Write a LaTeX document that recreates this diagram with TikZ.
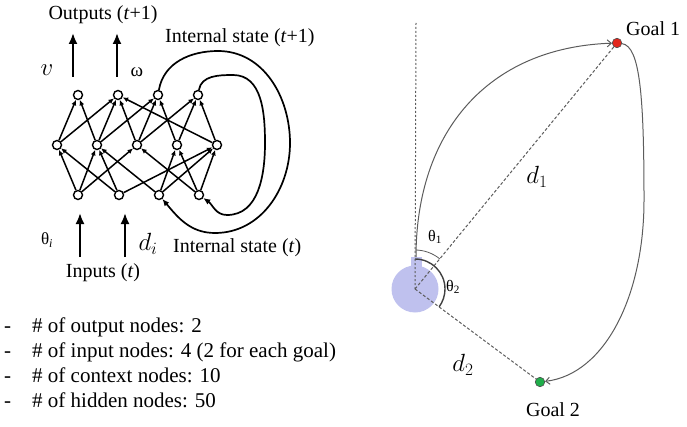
\documentclass[tikz,border=0pt]{standalone}
\usepackage{fontspec}
\setmainfont{Liberation Serif}
\usetikzlibrary{arrows.meta}
\definecolor{robotlilac}{HTML}{BFC1EE}
\definecolor{goalred}{HTML}{E3261C}
\definecolor{goalgreen}{HTML}{1FAE4A}
\definecolor{pathgrey}{HTML}{5C5C5C}

\begin{document}
\begin{tikzpicture}[x=1pt,y=1pt,
        >=Latex,
        unit/.style={circle,draw,line width=1.4pt,fill=white,minimum size=9pt,inner sep=0pt},
        link/.style={-{Latex[length=5.5pt,width=5pt]},line width=1.5pt},
        io/.style={-{Latex[length=11pt,width=9pt]},line width=2pt},
        recur/.style={-{Latex[length=7pt,width=6pt]},line width=1.7pt},
        lbl/.style={font=\fontsize{20}{24}\selectfont,inner sep=0pt},
        item/.style={font=\fontsize{21}{25}\selectfont,anchor=base west,inner sep=0pt},
        route/.style={-{Straight Barb[length=4pt,width=7pt]},draw=pathgrey,line width=1pt},
        sight/.style={draw=pathgrey,line width=1pt,dash pattern=on 3pt off 2pt},
        goal/.style={circle,draw=black!70,line width=0.6pt,minimum size=9.5pt,inner sep=0pt}
      ]
        \useasboundingbox (0,0) rectangle (687,426);

        % network
        \foreach \x [count=\k] in {78,118,158,198} \node[unit] (o\k) at (\x,331) {};
        \foreach \x [count=\k] in {57,97,137,177,217} \node[unit] (h\k) at (\x,281) {};
        \foreach \x [count=\k] in {78,119,159,199} \node[unit] (i\k) at (\x,231) {};

        \foreach \a/\b in {i1/h1,i1/h2,i1/h3,i2/h1,i2/h2,i2/h5,i3/h2,i3/h4,i3/h5,i4/h3,i4/h4,i4/h5,
          h1/o1,h1/o2,h2/o1,h2/o2,h2/o3,h3/o2,h3/o3,h3/o4,h4/o3,h4/o4,h5/o2,h5/o4}
          \draw[link] (\a) -- (\b);

        % outputs and inputs
        \coordinate (vfoot) at (73,349);   \coordinate (vhead) at (73,393);
        \coordinate (wfoot) at (117,349);  \coordinate (whead) at (117,393);
        \coordinate (thfoot) at (80,169);  \coordinate (thhead) at (80,213);
        \coordinate (dfoot) at (125,169);  \coordinate (dhead) at (125,213);
        \draw[io] (vfoot) -- (vhead);
        \draw[io] (wfoot) -- (whead);
        \draw[io] (thfoot) -- (thhead);
        \draw[io] (dfoot) -- (dhead);

        \node[lbl] (outputs) at (103,411) {Outputs (\textit{t}+1)};
        \node[lbl] (inputs) at (103,153) {Inputs (\textit{t})};
        \node[inner sep=0pt,font=\fontsize{25}{27}\selectfont] (vlab) at (47,356) {$v$};
        \node[inner sep=0pt,font=\fontsize{19}{21}\selectfont] (wlab) at (137,354) {ω};
        \node[inner sep=0pt,font=\fontsize{17}{20}\selectfont] (thlab) at (47,186) {θ\textsubscript{\textit{i}}};
        \node[inner sep=0pt,font=\fontsize{26}{28}\selectfont] (dlab) at (148,182) {$d_i$};
        \node[lbl,anchor=west] (statenext) at (165,388) {Internal state (\textit{t}+1)};
        \node[lbl,anchor=west] (statenow) at (173,178) {Internal state (\textit{t})};

        % recurrent loops
        \draw[recur] (o3) to[out=80,in=180] (218,375) to[out=0,in=90] (290,283)
          to[out=-90,in=0] (215,193) to[out=180,in=-50] (i3);
        \draw[recur] (o4) to[out=80,in=180] (233,351) to[out=0,in=90] (265,283)
          to[out=-90,in=0] (227,211) to[out=180,in=-35] (i4);

        % node counts
        \node[item] (d1) at (4,94) {-};
        \node[item] (d2) at (4,69) {-};
        \node[item] (d3) at (4,44) {-};
        \node[item] (d4) at (4,19) {-};
        \node[item] (n1) at (32,94) {\# of output nodes: 2};
        \node[item] (n2) at (32,69) {\# of input nodes: 4 (2 for each goal)};
        \node[item] (n3) at (32,44) {\# of context nodes: 10};
        \node[item] (n4) at (32,19) {\# of hidden nodes: 50};

        % robot and goals
        \node[circle,fill=robotlilac,minimum size=47pt,inner sep=0pt] (robot) at (415,137) {};
        \fill[robotlilac] (411,150) rectangle (422,169);
        \node[goal,fill=goalred] (g1) at (617,383) {};
        \node[goal,fill=goalgreen] (g2) at (540,44) {};
        \coordinate (north) at (416,404);
        \coordinate (launch) at (416,169);

        \draw[sight,dash pattern=on 2pt off 2pt] (robot.center) -- (north);
        \draw[sight] (robot.center) -- (g1);
        \draw[sight] (robot.center) -- (g2);

        \draw[pathgrey,line width=0.8pt] ([shift={(90:39)}]robot.center) arc[start angle=90,end angle=50.7,radius=39];
        \draw[black!75,line width=1.4pt] ([shift={(90:30)}]robot.center) arc[start angle=90,end angle=-36.4,radius=30];

        \draw[route] (launch) to[out=90,in=182,looseness=1.1] (g1);
        \draw[route] (g1) .. controls (640,380) and (644,330) .. (644,226)
          .. controls (644,130) and (605,52) .. (g2);

        \node[lbl,anchor=west] (goalone) at (626,397) {Goal 1};
        \node[lbl] (goaltwo) at (553,16) {Goal 2};
        \node[inner sep=0pt,font=\fontsize{24}{26}\selectfont] (dist1) at (537,249) {$d_1$};
        \node[inner sep=0pt,font=\fontsize{24}{26}\selectfont] (dist2) at (463,61) {$d_2$};
        \node[inner sep=0pt,font=\fontsize{16}{18}\selectfont] (ang1) at (435,189) {θ\textsubscript{1}};
        \node[inner sep=0pt,font=\fontsize{16}{18}\selectfont] (ang2) at (453,139) {θ\textsubscript{2}};
      \end{tikzpicture}
\end{document}
